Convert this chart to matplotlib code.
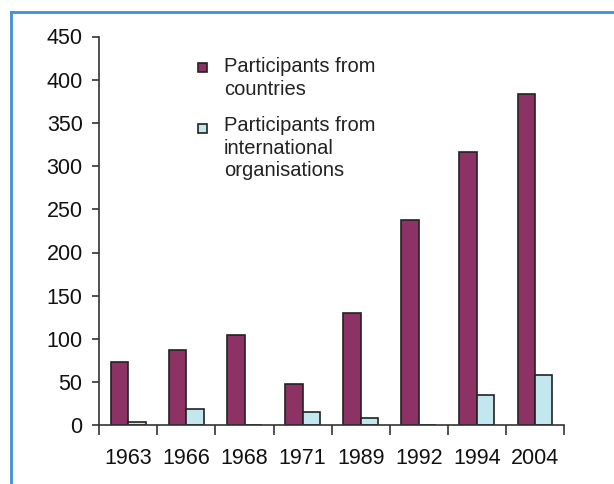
import matplotlib.pyplot as plt
import numpy as np
from matplotlib.patches import Rectangle
from matplotlib.lines import Line2D

years = ['1963', '1966', '1968', '1971', '1989', '1992', '1994', '2004']
countries = [73, 87, 104, 48, 130, 238, 316, 384]
international = [4, 19, 0, 15, 9, 0, 35, 58]

label_countries = 'Participants from\ncountries'
label_international = 'Participants from\ninternational\norganisations'

col_countries = '#8c3264'
col_international = '#c3e7ee'
edge = '#222222'

plt.rcParams['font.family'] = ['Liberation Sans', 'DejaVu Sans']

fig = plt.figure(figsize=(6.14, 4.84), dpi=100)
ax = fig.add_axes([99.3 / 614, 1 - 425.3 / 484, (564 - 99.3) / 614, (425.3 - 36.5) / 484])

x = np.arange(len(years))
w = 0.3
ax.bar(x - w / 2, countries, w, color=col_countries, edgecolor=edge, linewidth=1.2)
ax.bar(x + w / 2, international, w, color=col_international, edgecolor=edge, linewidth=1.2)

ax.set_xlim(-0.5, len(years) - 0.5)
ax.set_ylim(0, 450)
ax.set_yticks(range(0, 451, 50))
ax.set_xticks(x)
ax.set_xticklabels(years)
ax.tick_params(axis='x', length=0, labelsize=15.5, pad=16, labelcolor='#111111')
ax.set_xticks(np.arange(-0.5, len(years)), minor=True)
ax.tick_params(axis='x', which='minor', length=7, width=1.2, color='#333333')
ax.tick_params(axis='y', length=5, width=1.2, labelsize=15.5, pad=7, color='#333333', labelcolor='#111111')

for s in ['top', 'right']:
    ax.spines[s].set_visible(False)
for s in ['left', 'bottom']:
    ax.spines[s].set_linewidth(1.2)
    ax.spines[s].set_color('#333333')

# legend drawn by hand so the square sits on the first line
fig.patches.append(Rectangle((198 / 614, 1 - 72 / 484), 9 / 614, 9 / 484, transform=fig.transFigure,
                             facecolor=col_countries, edgecolor=edge, linewidth=1.2))
fig.patches.append(Rectangle((198 / 614, 1 - 133 / 484), 9 / 614, 9 / 484, transform=fig.transFigure,
                             facecolor=col_international, edgecolor=edge, linewidth=1.2))
fig.text(224 / 614, 1 - 57 / 484, label_countries, fontsize=14.5, va='top', ha='left', linespacing=1.25, color='#222222')
fig.text(224 / 614, 1 - 116 / 484, label_international, fontsize=14.5, va='top', ha='left', linespacing=1.25, color='#222222')

# blue frame
fig.lines.append(Line2D([11 / 614, 1], [1 - 12 / 484, 1 - 12 / 484], transform=fig.transFigure, color='#3f91d8', linewidth=2))
fig.lines.append(Line2D([11 / 614, 11 / 614], [0, 1 - 12 / 484], transform=fig.transFigure, color='#3f91d8', linewidth=2))

fig.savefig('out.png', dpi=100)
